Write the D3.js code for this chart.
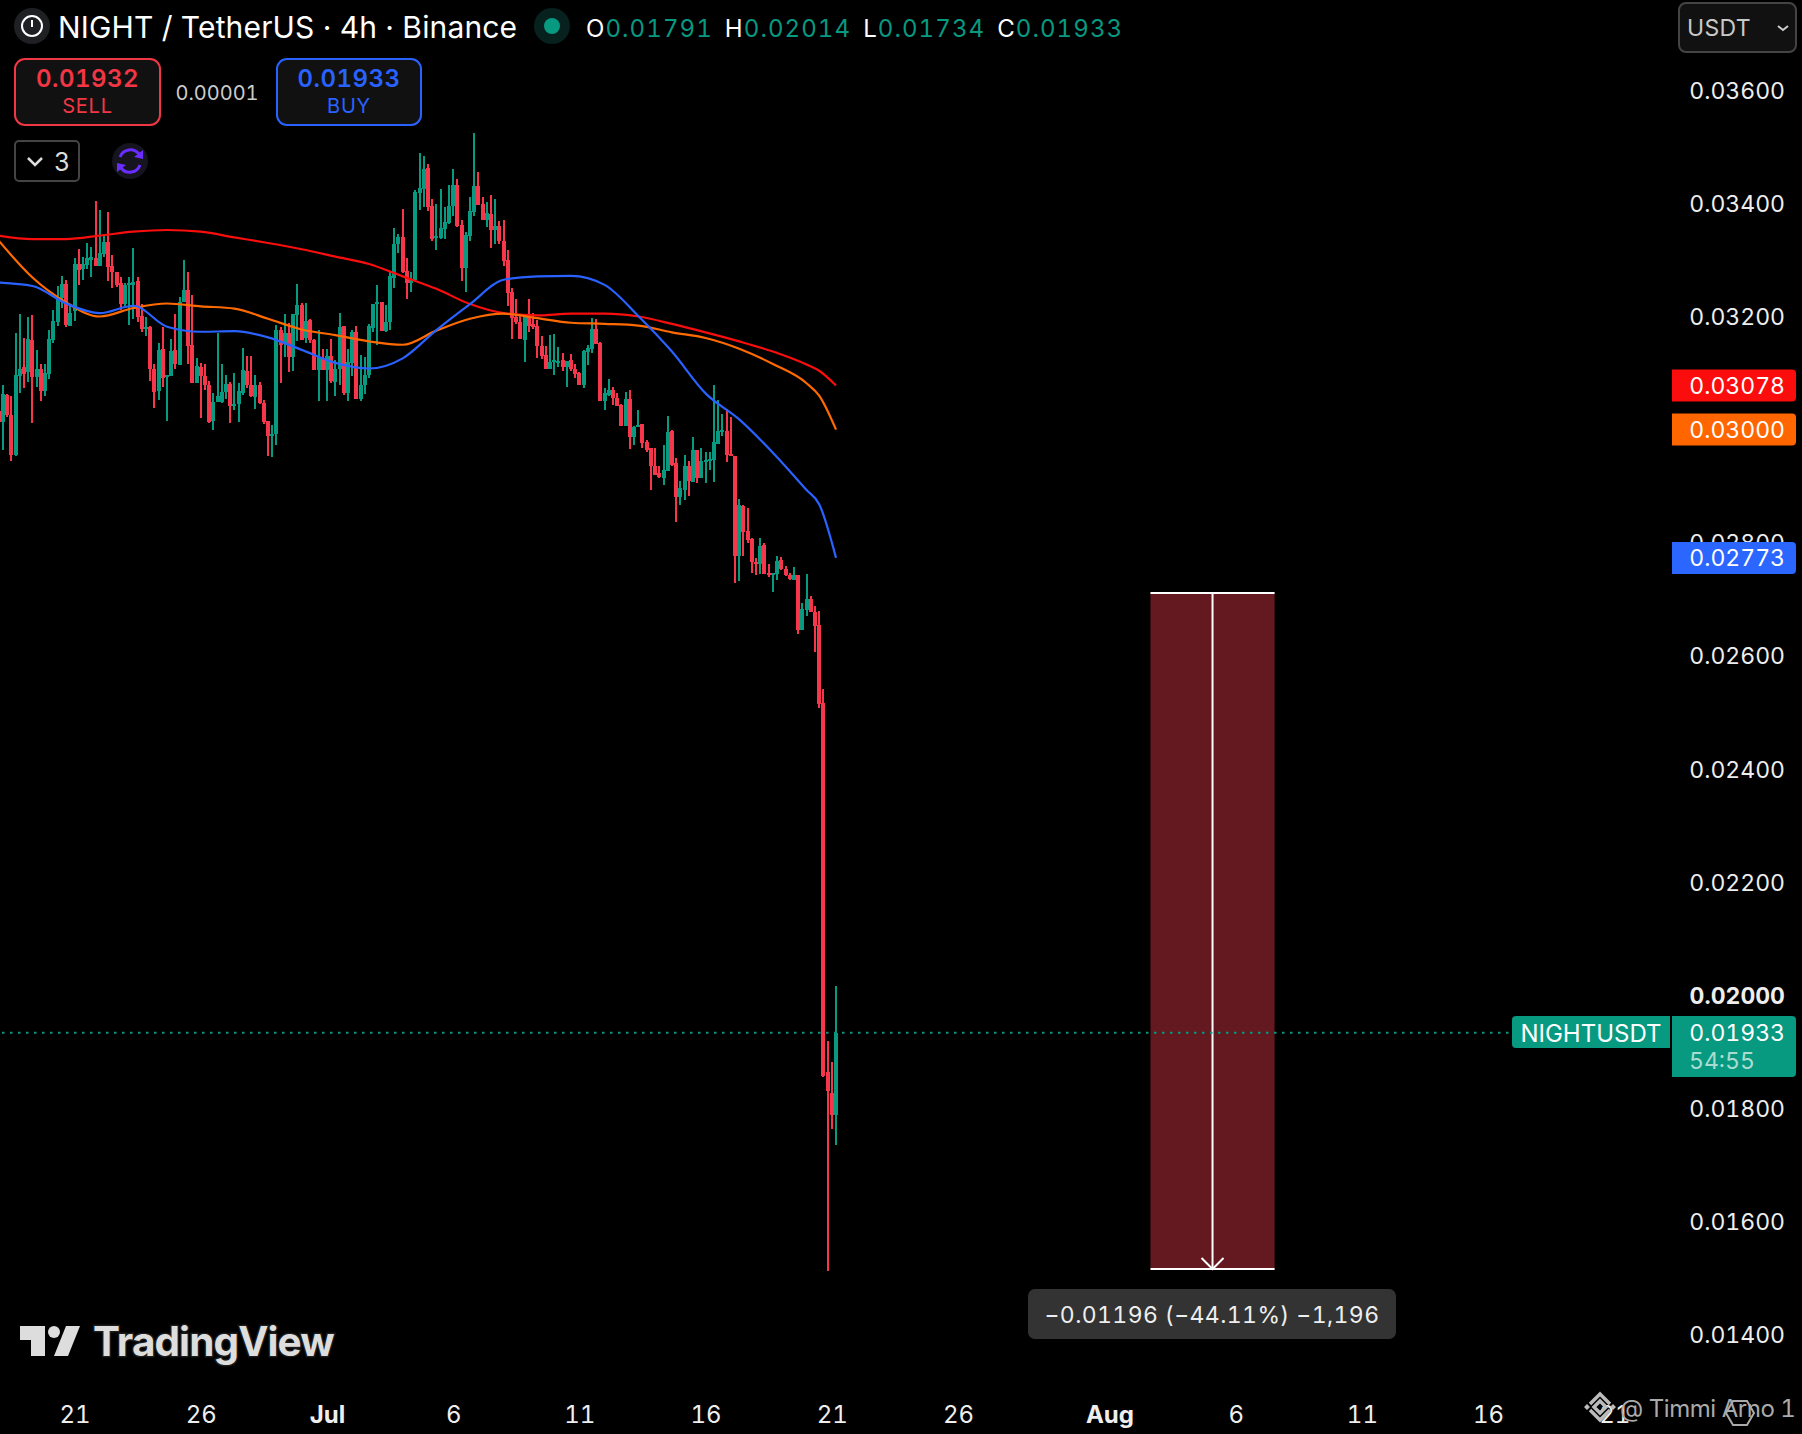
<!DOCTYPE html>
<html>
<head>
<meta charset="utf-8">
<script src="https://cdn.jsdelivr.net/npm/d3@7"></script>
<style>
  html, body { margin: 0; background: #000; }
  svg { display: block; font-family: Inter, "Noto Sans", sans-serif; font-variant-numeric: tabular-nums; }
</style>
</head>
<body>
<div id="chart"></div>
<script>
// prices are kept in ticks of 0.00001
const TICK = 0.00001;

const opens = [
  3032,3014,3061,3026,2955,3095,3110,3101,3159,3093,
  3108,3069,3098,3159,3191,3232,3258,3184,3209,3293,
  3284,3291,3300,3303,3290,3311,3331,3290,3278,3259,
  3222,3255,3256,3263,3201,3179,3182,3108,3069,3143,
  3094,3095,3140,3115,3225,3247,3150,3082,3111,3095,
  3078,3015,3049,3049,3067,3081,3041,3045,3064,3104,
  3079,3058,3078,3047,3015,2989,2992,3176,3152,3170,
  3129,3203,3221,3162,3194,3159,3105,3126,3105,3130,
  3085,3108,3183,3064,3117,3172,3054,3078,3097,3179,
  3222,3225,3175,3191,3269,3328,3340,3280,3259,3265,
  3419,3426,3462,3396,3340,3339,3355,3365,3395,3433,
  3362,3285,3343,3385,3430,3399,3371,3382,3353,3360,
  3334,3300,3243,3200,3191,3159,3203,3186,3184,3147,
  3132,3107,3120,3120,3123,3111,3123,3108,3100,3078,
  3138,3143,3178,3153,3050,3061,3070,3056,3044,3007,
  3054,2986,3004,3009,2978,2967,2936,2923,2915,2927,
  2998,2940,2881,2893,2935,2908,2963,2915,2942,2945,
  2946,2975,2996,2998,2957,2954,2777,2865,2821,2807,
  2766,2762,2795,2747,2744,2745,2769,2754,2743,2734,
  2743,2646,2681,2700,2678,2654,2516,1863,1827,1788
];
const closes = [
  3014,3063,3026,2955,3097,3108,3098,3160,3093,3108,
  3069,3100,3160,3192,3235,3258,3185,3206,3293,3282,
  3293,3303,3306,3290,3313,3331,3288,3278,3255,3222,
  3255,3259,3261,3200,3178,3182,3108,3067,3141,3092,
  3097,3139,3116,3225,3247,3147,3082,3113,3094,3078,
  3014,3049,3059,3067,3081,3042,3045,3069,3106,3079,
  3060,3078,3047,3014,2989,2993,3176,3150,3170,3129,
  3205,3221,3159,3192,3159,3105,3129,3105,3130,3086,
  3108,3181,3064,3119,3173,3054,3079,3097,3183,3222,
  3225,3175,3191,3271,3329,3340,3278,3259,3267,3420,
  3427,3461,3393,3337,3343,3357,3368,3396,3432,3360,
  3285,3344,3387,3430,3398,3371,3383,3353,3360,3333,
  3299,3242,3198,3190,3160,3200,3184,3182,3147,3130,
  3107,3119,3123,3122,3110,3122,3108,3098,3078,3139,
  3144,3178,3152,3051,3065,3070,3055,3042,3007,3054,
  2986,3005,3008,2976,2964,2935,2920,2916,2929,2995,
  2938,2881,2896,2935,2909,2964,2915,2945,2946,2948,
  2978,2998,2999,2955,2954,2777,2867,2819,2805,2766,
  2762,2794,2745,2745,2746,2768,2753,2742,2736,2742,
  2646,2683,2700,2677,2653,2514,1857,1830,1787,1933
];
const highs = [
  3045,3079,3063,3059,3170,3204,3162,3199,3202,3141,
  3116,3116,3177,3212,3254,3272,3265,3222,3303,3319,
  3305,3330,3323,3405,3389,3346,3385,3309,3278,3270,
  3259,3270,3321,3270,3223,3200,3183,3116,3154,3181,
  3097,3160,3204,3234,3300,3278,3238,3126,3118,3116,
  3086,3065,3170,3116,3097,3085,3100,3083,3144,3130,
  3131,3097,3085,3052,3016,3008,3185,3181,3204,3188,
  3205,3258,3224,3224,3196,3160,3176,3143,3143,3160,
  3123,3206,3183,3142,3177,3183,3132,3128,3187,3222,
  3256,3226,3221,3278,3357,3346,3390,3303,3278,3424,
  3489,3484,3470,3408,3399,3425,3393,3433,3461,3444,
  3371,3349,3411,3524,3455,3411,3402,3415,3408,3369,
  3371,3318,3250,3231,3205,3201,3231,3207,3194,3166,
  3148,3167,3169,3146,3136,3122,3133,3116,3102,3140,
  3150,3197,3195,3155,3073,3090,3075,3064,3046,3066,
  3070,3007,3035,3010,2982,2968,2967,2936,2973,3024,
  3000,2949,2909,2955,2945,2986,2964,2967,2960,2960,
  3079,3052,3027,3037,3023,2954,2878,2866,2861,2808,
  2773,2809,2799,2762,2746,2776,2774,2759,2747,2756,
  2743,2693,2745,2706,2688,2679,2541,1918,1882,2015
];
const lows = [
  2990,2963,3023,2945,2953,3065,3074,3085,3011,3076,
  3051,3060,3090,3153,3184,3215,3182,3183,3192,3255,
  3265,3284,3270,3290,3290,3306,3263,3250,3253,3212,
  3218,3185,3196,3191,3172,3166,3086,3039,3052,3076,
  3016,3094,3107,3115,3225,3116,3082,3082,3021,3070,
  3012,2999,3048,3047,3054,3012,3034,3014,3062,3073,
  3058,3036,3045,3009,2954,2952,2972,3082,3129,3101,
  3104,3156,3159,3153,3154,3105,3051,3105,3051,3083,
  3060,3079,3061,3051,3094,3054,3051,3063,3091,3172,
  3150,3175,3172,3176,3251,3312,3277,3231,3244,3265,
  3388,3393,3386,3333,3317,3337,3337,3364,3377,3358,
  3263,3244,3333,3377,3398,3371,3359,3322,3329,3329,
  3290,3218,3160,3186,3160,3120,3173,3178,3126,3124,
  3107,3107,3097,3111,3104,3076,3103,3091,3078,3073,
  3114,3136,3152,3051,3034,3060,3044,3041,3007,3007,
  2966,2972,3004,2968,2960,2893,2919,2915,2902,2927,
  2936,2837,2866,2875,2882,2908,2906,2915,2906,2929,
  2908,2975,2988,2942,2954,2729,2732,2777,2800,2747,
  2742,2745,2745,2740,2713,2734,2751,2741,2733,2733,
  2639,2646,2671,2677,2607,2508,1854,1511,1762,1734
];

// moving averages, read every eighth candle and around the last kink
const maCandles = [0,8,16,24,32,40,48,56,64,72,80,88,96,104,112,120,128,136,144,152,160,168,176,184,192,195,199];
const maRed = [3343,3337,3337,3343,3350,3353,3350,3340,3330,3319,3306,3293,3271,3249,3222,3206,3202,3205,3205,3200,3187,3172,3156,3138,3115,3104,3078];
const maOrange = [3334,3269,3225,3200,3215,3223,3218,3214,3196,3177,3167,3156,3150,3175,3196,3205,3197,3189,3187,3184,3172,3162,3143,3116,3082,3060,3000];
const maBlue = [3260,3254,3223,3206,3219,3182,3173,3174,3163,3141,3118,3108,3126,3176,3222,3265,3271,3272,3256,3201,3138,3064,3018,2959,2893,2868,2773];

const priceTicks = [0.036,0.034,0.032,0.03,0.028,0.026,0.024,0.022,0.02,0.018,0.016,0.014];
const timeTicks = [
  Date.UTC(2025,5,21), Date.UTC(2025,5,26), Date.UTC(2025,6,1), Date.UTC(2025,6,6), Date.UTC(2025,6,11),
  Date.UTC(2025,6,16), Date.UTC(2025,6,21), Date.UTC(2025,6,26), Date.UTC(2025,7,1), Date.UTC(2025,7,6),
  Date.UTC(2025,7,11), Date.UTC(2025,7,16), Date.UTC(2025,7,21)
];
const headerLetters = ['O','H','L','C'];
const headerValues = ['0.01791','0.02014','0.01734','0.01933'];
const measureFrom = 0.02711;
const measureTo = 0.01515;
const measureStart = Date.UTC(2025,7,2,15);
const measureEnd = Date.UTC(2025,7,7,13);

const WIDTH = 1802, HEIGHT = 1434;
const UP = '#089981', DOWN = '#f6364a';
const HOUR4 = 4 * 3600 * 1000;
const lastTime = Date.UTC(2025,6,21,4);
const candleTime = i => lastTime - (opens.length - 1 - i) * HOUR4;

const x = d3.scaleUtc().domain([candleTime(0), lastTime]).range([-1.2, 836]);
const y = d3.scaleLinear().domain([0.036, 0.014]).range([90.4, 1334]);

const svg = d3.select('#chart').append('svg')
  .attr('width', WIDTH).attr('height', HEIGHT)
  .attr('viewBox', `0 0 ${WIDTH} ${HEIGHT}`)
  .style('background', '#000');

function label(parent, px, py, text, opts = {}) {
  return parent.append('text')
    .attr('x', px).attr('y', py)
    .attr('text-anchor', opts.anchor || 'start')
    .attr('dominant-baseline', 'central')
    .attr('font-size', opts.size || 23)
    .attr('font-weight', opts.weight || 400)
    .attr('letter-spacing', opts.spacing || 0)
    .attr('fill', opts.fill || '#fff')
    .text(text);
}

// price and time axes
const yAxis = d3.axisLeft(y).tickValues(priceTicks).tickSize(0).tickPadding(0)
  .tickFormat(d3.format('.5f'));
const yAxisG = svg.append('g').attr('transform', 'translate(1785,0)').call(yAxis);
yAxisG.select('.domain').remove();
yAxisG.selectAll('text')
  .attr('fill', '#eee').attr('font-size', 23).attr('font-family', 'Inter')
  .attr('dy', '0.36em')
  .attr('font-weight', d => d === 0.02 ? 700 : 400);

const monthStart = d => new Date(d).getUTCDate() === 1;
const xAxis = d3.axisBottom(x).tickValues(timeTicks).tickSize(0).tickPadding(0)
  .tickFormat(d => monthStart(d) ? d3.utcFormat('%b')(d) : d3.utcFormat('%-d')(d));
const xAxisG = svg.append('g').attr('transform', 'translate(0,1405.5)').call(xAxis);
xAxisG.select('.domain').remove();
xAxisG.selectAll('text')
  .attr('fill', '#eee').attr('font-size', 24).attr('font-family', 'Inter')
  .attr('font-weight', d => monthStart(d) ? 700 : 400);

// candles
const candles = d3.range(opens.length).map(i => ({
  t: candleTime(i), o: opens[i] * TICK, h: highs[i] * TICK, l: lows[i] * TICK, c: closes[i] * TICK
}));
const candleG = svg.append('g').attr('class', 'candles').attr('shape-rendering', 'crispEdges');
const colorOf = d => d.c >= d.o ? UP : DOWN;
candleG.selectAll('.wick').data(candles).join('rect')
  .attr('class', 'wick')
  .attr('x', d => Math.round(x(d.t)) - 1)
  .attr('width', 2)
  .attr('y', d => y(d.h))
  .attr('height', d => y(d.l) - y(d.h))
  .attr('fill', colorOf);
candleG.selectAll('.body').data(candles).join('rect')
  .attr('class', 'body')
  .attr('x', d => Math.round(x(d.t)) - 2)
  .attr('width', 4)
  .attr('y', d => y(Math.max(d.o, d.c)))
  .attr('height', d => Math.max(2, Math.abs(y(d.o) - y(d.c))))
  .attr('fill', colorOf);

// moving averages
const maLine = d3.line()
  .x((d, i) => x(candleTime(maCandles[i])))
  .y(d => y(d * TICK))
  .curve(d3.curveMonotoneX);
[[maRed, '#f90d0d'], [maOrange, '#ff6a00'], [maBlue, '#2962ff']].forEach(([vals, color]) => {
  svg.append('path').attr('d', maLine(vals))
    .attr('fill', 'none').attr('stroke', color).attr('stroke-width', 2.2);
});

// measure box
const mx0 = x(measureStart), mx1 = x(measureEnd), mxc = (mx0 + mx1) / 2;
svg.append('rect')
  .attr('x', mx0).attr('width', mx1 - mx0)
  .attr('y', y(measureFrom)).attr('height', y(measureTo) - y(measureFrom))
  .attr('fill', '#641820');
[measureFrom, measureTo].forEach(p => {
  svg.append('line').attr('x1', mx0).attr('x2', mx1).attr('y1', y(p)).attr('y2', y(p))
    .attr('stroke', '#fff').attr('stroke-width', 2);
});
svg.append('line').attr('x1', mxc).attr('x2', mxc).attr('y1', y(measureFrom)).attr('y2', y(measureTo))
  .attr('stroke', '#fff').attr('stroke-width', 2);
svg.append('path')
  .attr('d', `M${mxc - 11},${y(measureTo) - 11}L${mxc},${y(measureTo)}L${mxc + 11},${y(measureTo) - 11}`)
  .attr('fill', 'none').attr('stroke', '#fff').attr('stroke-width', 2);
svg.append('rect').attr('x', 1028).attr('y', 1289).attr('width', 368).attr('height', 50).attr('rx', 7).attr('fill', '#333');
label(svg, 1212, 1315, '−0.01196 (−44.11%) −1,196', { anchor: 'middle', size: 23, fill: '#eee', spacing: 0.4 });

// last price line, it runs over the measure box
svg.append('line')
  .attr('x1', 2).attr('x2', 1512)
  .attr('y1', y(closes[closes.length - 1] * TICK)).attr('y2', y(closes[closes.length - 1] * TICK))
  .attr('stroke', UP).attr('stroke-width', 2).attr('stroke-dasharray', '2.5 5.5');

// price badges on the right
function badge(py0, py1, color) {
  svg.append('path')
    .attr('d', `M1672,${py0}H1792a4,4 0 0 1 4,4V${py1 - 4}a4,4 0 0 1 -4,4H1672Z`)
    .attr('fill', color);
}
[[maRed, '#fb0d0d'], [maOrange, '#ff6600'], [maBlue, '#2b66ff']].forEach(([vals, color]) => {
  const v = vals[vals.length - 1] * TICK;
  badge(y(v) - 16, y(v) + 16, color);
  label(svg, 1785, y(v) + 0.5, d3.format('.5f')(v), { anchor: 'end' });
});
badge(1016, 1077, '#089981');
label(svg, 1785, y(closes[closes.length - 1] * TICK) + 0.5, '0.01933', { anchor: 'end' });
label(svg, 1689, 1061, '54:55', { fill: '#a8dcd0' });
svg.append('path').attr('d', 'M1516,1016H1670V1048H1516a4,4 0 0 1 -4,-4V1020a4,4 0 0 1 4,-4Z').attr('fill', '#089981');
label(svg, 1591, 1033, 'NIGHTUSDT', { anchor: 'middle', size: 24 });

// header
svg.append('circle').attr('cx', 32).attr('cy', 26).attr('r', 18).attr('fill', '#1e2024');
svg.append('circle').attr('cx', 32).attr('cy', 26).attr('r', 10).attr('fill', 'none').attr('stroke', '#fff').attr('stroke-width', 2);
svg.append('line').attr('x1', 32).attr('x2', 32).attr('y1', 20).attr('y2', 27).attr('stroke', '#fff').attr('stroke-width', 2);
label(svg, 58, 27, 'NIGHT / TetherUS · 4h · Binance', { size: 30, fill: '#fff', spacing: 0.15 });
svg.append('circle').attr('cx', 552).attr('cy', 26).attr('r', 18).attr('fill', '#06211e');
svg.append('circle').attr('cx', 552).attr('cy', 26).attr('r', 8).attr('fill', '#089981');
const ohlc = label(svg, 586, 27.5, '', { size: 24, spacing: 1.08 });
headerLetters.forEach((l, i) => {
  ohlc.append('tspan').attr('fill', '#fff').attr('dx', i ? 12 : 0).text(l);
  ohlc.append('tspan').attr('fill', UP).text(headerValues[i]);
});

// sell / buy
function tradeButton(bx, bw, price, word, color) {
  svg.append('rect').attr('x', bx).attr('y', 59).attr('width', bw).attr('height', 66).attr('rx', 10)
    .attr('fill', '#111').attr('stroke', color).attr('stroke-width', 2);
  label(svg, bx + bw / 2, 78, price, { anchor: 'middle', size: 24, weight: 600, fill: color, spacing: 0.5 });
  label(svg, bx + bw / 2, 106, word, { anchor: 'middle', size: 20, fill: color, spacing: 0.8 });
}
tradeButton(15, 145, '0.01932', 'SELL', '#f23645');
tradeButton(277, 144, '0.01933', 'BUY', '#2962ff');
label(svg, 217, 93, '0.00001', { anchor: 'middle', size: 20, fill: '#ccc' });

// collapsed indicators and sync icon
svg.append('rect').attr('x', 15).attr('y', 141).attr('width', 64).attr('height', 40).attr('rx', 4)
  .attr('fill', '#000').attr('stroke', '#444').attr('stroke-width', 2);
svg.append('path').attr('d', 'M28,158l7,7l7,-7').attr('fill', 'none').attr('stroke', '#ddd').attr('stroke-width', 2.5);
label(svg, 62, 162, '3', { anchor: 'middle', size: 25, fill: '#ddd' });
svg.append('circle').attr('cx', 130).attr('cy', 161).attr('r', 18).attr('fill', '#15141f');
svg.append('path').attr('d', 'M120,157a11,11 0 0 1 19,-3M140,165a11,11 0 0 1 -19,3')
  .attr('fill', 'none').attr('stroke', '#6a2cff').attr('stroke-width', 3);
svg.append('path').attr('d', 'M143,150l0,9l-9,-2ZM117,172l0,-9l9,2Z').attr('fill', '#6a2cff');

// currency button
svg.append('rect').attr('x', 1679).attr('y', 3).attr('width', 117).attr('height', 49).attr('rx', 7)
  .attr('fill', '#111').attr('stroke', '#444').attr('stroke-width', 2);
label(svg, 1687, 28, 'USDT', { size: 23, fill: '#c8c8c8', spacing: 0.3 });
svg.append('path').attr('d', 'M1778,26l5,4l5,-4').attr('fill', 'none').attr('stroke', '#ccc').attr('stroke-width', 2);

// logo
const logo = svg.append('g').attr('transform', 'translate(20,1326)');
logo.append('path').attr('d', 'M0,0H25V30H11V14H0Z').attr('fill', '#ddd');
logo.append('circle').attr('cx', 34).attr('cy', 6).attr('r', 6).attr('fill', '#ddd');
logo.append('path').attr('d', 'M46,0H60L48,30H34Z').attr('fill', '#ddd');
svg.append('text').attr('x', 93).attr('y', 1356)
  .attr('font-size', 40.5).attr('font-weight', 700).attr('letter-spacing', -0.9)
  .attr('fill', '#ddd').attr('stroke', '#1a1a1a').attr('stroke-width', 3).attr('paint-order', 'stroke')
  .text('TradingView');

// watermark over the axis
label(svg, 1620, 1408, '@ Timmi Arno 1', { size: 24, fill: '#aaa', spacing: -0.45 });
svg.append('path').attr('d', 'M1590,1404l10,-10l10,10M1590,1410l10,10l10,-10M1594,1407l6,-6l6,6l-6,6Z')
  .attr('fill', 'none').attr('stroke', '#bbb').attr('stroke-width', 3.5);
svg.append('path').attr('d', 'M1584,1407l3,-3l3,3l-3,3ZM1610,1407l3,-3l3,3l-3,3Z').attr('fill', '#bbb');
svg.append('path').attr('d', 'M1733,1401h14l7,12l-7,12h-14l-7,-12Z')
  .attr('fill', 'none').attr('stroke', '#aaa').attr('stroke-width', 2);
</script>
</body>
</html>
